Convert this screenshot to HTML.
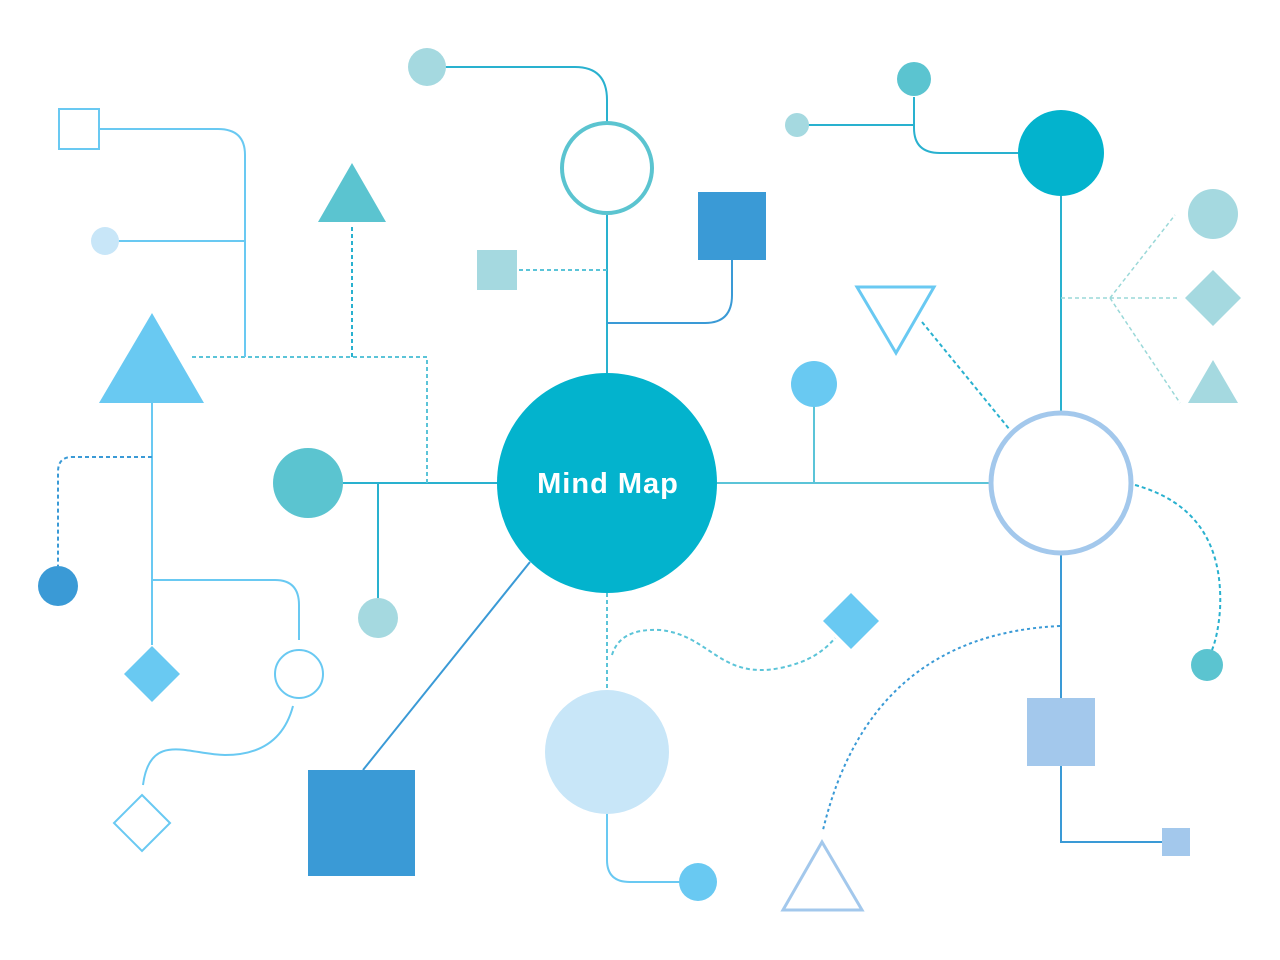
<!DOCTYPE html>
<html><head><style>html,body{margin:0;padding:0;background:#fff;}svg{display:block}</style></head>
<body>
<svg width="1280" height="960" viewBox="0 0 1280 960" xmlns="http://www.w3.org/2000/svg">
<g fill="none" stroke-width="2">
<path d="M607 373 V213" stroke="#29b1cf"/>
<path d="M607 122 V100 Q607 67 575 67 H427" stroke="#29b1cf"/>
<path d="M607 270 H518" stroke="#5bc4d8" stroke-dasharray="4 3"/>
<path d="M607 323 H705 Q732 323 732 295 V260" stroke="#3a9ad6"/>
<path d="M497 483 H343" stroke="#29b1cf"/>
<path d="M378 483 V598" stroke="#29b1cf"/>
<path d="M427 483 V357 H190" stroke="#5bc4d8" stroke-dasharray="4 3"/>
<path d="M352 357 V225" stroke="#29b1cf" stroke-dasharray="4 3"/>
<path d="M245 357 V155 Q245 129 218 129 H100" stroke="#69c9f2"/>
<path d="M245 241 H118" stroke="#69c9f2"/>
<path d="M152 403 V645" stroke="#69c9f2"/>
<path d="M152 580 H275 Q299 580 299 605 V640" stroke="#69c9f2"/>
<path d="M293 706 Q280 755 225 755 C190 755 150 730 143 785" stroke="#69c9f2"/>
<path d="M152 457 H72 Q58 457 58 472 V566" stroke="#3a9ad6" stroke-dasharray="4 3"/>
<path d="M530 562 L363 770" stroke="#3a9ad6"/>
<path d="M607 593 V690" stroke="#5bc4d8" stroke-dasharray="4 3"/>
<path d="M607 814 V860 Q607 882 630 882 H680" stroke="#69c9f2"/>
<path d="M612 655 Q620 628 660 630 C710 635 720 680 780 668 C810 662 825 650 835 638" stroke="#5bc4d8" stroke-dasharray="4 3"/>
<path d="M717 483 H990" stroke="#5bc4d8"/>
<path d="M814 483 V405" stroke="#5bc4d8"/>
<path d="M1061 413 V196" stroke="#29b1cf"/>
<path d="M1018 153 H940 Q914 153 914 128 V97" stroke="#29b1cf"/>
<path d="M914 125 H808" stroke="#29b1cf"/>
<path d="M1061 298 H1110 M1110 298 L1175 215 M1110 298 H1180 M1110 298 L1180 403" stroke="#9ad8d8" stroke-width="1.5" stroke-dasharray="4 3"/>
<path d="M922 322 L1010 430" stroke="#29b1cf" stroke-dasharray="4 3"/>
<path d="M1135 485 Q1225 510 1220 610 Q1218 635 1212 650" stroke="#29b1cf" stroke-dasharray="4 3"/>
<path d="M1061 553 V698" stroke="#3a9ad6"/>
<path d="M1061 766 V842 H1162" stroke="#3a9ad6"/>
<path d="M1060 626 Q870 635 823 830" stroke="#3a9ad6" stroke-dasharray="3 3"/>
</g>
<circle cx="607" cy="483" r="110" fill="#03b3cd"/>
<text x="608" y="493" text-anchor="middle" fill="#fff" font-family="Liberation Sans, sans-serif" font-weight="bold" font-size="29" letter-spacing="1">Mind Map</text>
<circle cx="607" cy="168" r="45" fill="#fff" stroke="#5bc4d0" stroke-width="4"/>
<circle cx="427" cy="67" r="19" fill="#a5d9e0"/>
<rect x="477" y="250" width="40" height="40" fill="#a5d9e0"/>
<rect x="698" y="192" width="68" height="68" fill="#3a9ad6"/>
<circle cx="308" cy="483" r="35" fill="#5bc4d0"/>
<circle cx="378" cy="618" r="20" fill="#a5d9e0"/>
<polygon points="352,163 386,222 318,222" fill="#5bc4d0"/>
<polygon points="152,313 204,403 99,403" fill="#69c9f2"/>
<rect x="59" y="109" width="40" height="40" fill="#fff" stroke="#69c9f2" stroke-width="2"/>
<circle cx="105" cy="241" r="14" fill="#c8e6f8"/>
<polygon points="152,646 180,674 152,702 124,674" fill="#69c9f2"/>
<circle cx="299" cy="674" r="24" fill="#fff" stroke="#69c9f2" stroke-width="2"/>
<polygon points="142,795 170,823 142,851 114,823" fill="#fff" stroke="#69c9f2" stroke-width="2"/>
<circle cx="58" cy="586" r="20" fill="#3a9ad6"/>
<rect x="308" y="770" width="107" height="106" fill="#3a9ad6"/>
<circle cx="607" cy="752" r="62" fill="#c8e6f8"/>
<circle cx="698" cy="882" r="19" fill="#69c9f2"/>
<polygon points="851,593 879,621 851,649 823,621" fill="#69c9f2"/>
<circle cx="814" cy="384" r="23" fill="#69c9f2"/>
<circle cx="1061" cy="483" r="70" fill="#fff" stroke="#a3c8ec" stroke-width="5"/>
<circle cx="1061" cy="153" r="43" fill="#03b3cd"/>
<circle cx="914" cy="79" r="17" fill="#5bc4d0"/>
<circle cx="797" cy="125" r="12" fill="#a5d9e0"/>
<circle cx="1213" cy="214" r="25" fill="#a5d9e0"/>
<polygon points="1213,270 1241,298 1213,326 1185,298" fill="#a5d9e0"/>
<polygon points="1213,360 1238,403 1188,403" fill="#a5d9e0"/>
<polygon points="857,287 934,287 896,353" fill="#fff" stroke="#69c9f2" stroke-width="3"/>
<circle cx="1207" cy="665" r="16" fill="#5bc4d0"/>
<rect x="1027" y="698" width="68" height="68" fill="#a3c8ec"/>
<rect x="1162" y="828" width="28" height="28" fill="#a3c8ec"/>
<polygon points="822,842 862,910 783,910" fill="#fff" stroke="#a3c8ec" stroke-width="3"/>
</svg>
</body></html>
